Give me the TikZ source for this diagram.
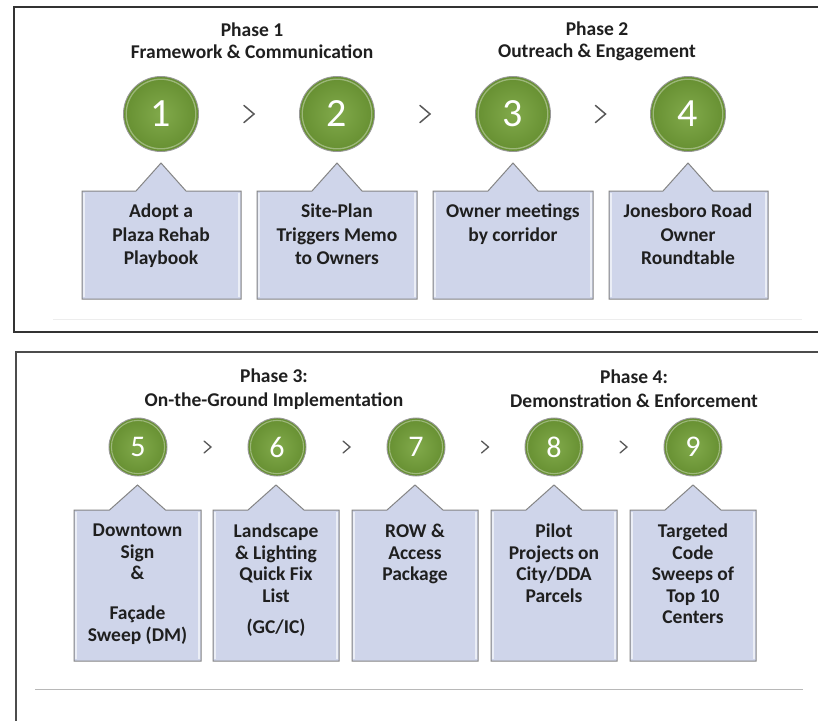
\documentclass[tikz,border=0pt]{standalone}
\usepackage{fontspec}
\setmainfont{Carlito}
\usetikzlibrary{calc}
\definecolor{circgreen}{HTML}{76A23B}
\definecolor{circdark}{HTML}{668F31}
\definecolor{boxfill}{HTML}{CFD5EA}
\definecolor{boxedge}{HTML}{858585}
\definecolor{chevcol}{HTML}{595959}
\tikzset{
  numcirc/.style={circle, draw=black!40, line width=0.9pt, inner color=circgreen!92!white, outer color=circdark, text=white, inner sep=0pt},
  bignum/.style={numcirc, minimum size=75pt, font=\fontsize{40}{40}\selectfont,
    path picture={\draw[white, opacity=0.35, line width=1.3pt] (path picture bounding box.center) circle[radius=34.8pt];}},
  smallnum/.style={numcirc, minimum size=58pt, font=\fontsize{30}{30}\selectfont,
    path picture={\draw[white, opacity=0.35, line width=1.1pt] (path picture bounding box.center) circle[radius=26.6pt];}},
  calloutbox/.style={fill=boxfill, draw=boxedge, line width=1pt, line join=miter},
  boxtext/.style={anchor=north, inner sep=0pt, align=center, font=\bfseries\fontsize{19.5}{23.5}\selectfont, text=black!88},
  boxtextb/.style={anchor=north, inner sep=0pt, align=center, font=\bfseries\fontsize{19.5}{21.5}\selectfont, text=black!88},
  phasetitle/.style={inner sep=0pt, align=center, font=\bfseries\fontsize{19.5}{22}\selectfont, text=black!88},
  chevron/.style={draw=chevcol, line width=1.5pt, line cap=round, line join=miter},
  panelline/.style={draw=black!80, line width=2pt},
}
% #1 cx, #2 x1, #3 x2, #4 top, #5 bottom, #6 apex y, #7 half base width
\newcommand{\mycallout}[7]{%
  \path[calloutbox] (#2,#4) -- (#1-#7,#4) -- (#1,#6) -- (#1+#7,#4) -- (#3,#4) -- (#3,#5) -- (#2,#5) -- cycle;
  \draw[white, opacity=0.6, line width=1.2pt] (#2+2,#4+2) -- (#2+2,#5-2);
  \draw[white, opacity=0.6, line width=1.2pt] (#3-2,#4+2) -- (#3-2,#5-2);
}
\begin{document}
\begin{tikzpicture}[x=1pt,y=-1pt]
\useasboundingbox (0,0) rectangle (818,721);
\fill[white] (0,0) rectangle (818,721);

% panels
\draw[panelline] (818,7) -- (13.5,7) -- (13.5,332) -- (818,332);
\draw[panelline, draw=black!70] (818,352) -- (15.5,352) -- (15.5,721);
\draw[black!7, line width=0.8pt] (53,319) -- (802,319);
\draw[black!28, line width=1pt] (35,689) -- (803,689);

% ---------- top row ----------
\node[phasetitle] (ph1) at (252,41) {Phase 1\\Framework \& Communication};
\node[phasetitle] (ph2) at (597,41) {Phase 2\\Outreach \& Engagement};

\node[bignum] (c1) at (161,114) {1};
\node[bignum] (c2) at (337,114) {2};
\node[bignum] (c3) at (513,114) {3};
\node[bignum] (c4) at (688,114) {4};

\foreach \a/\b in {c1/c2,c2/c3,c3/c4}{
  \draw[chevron] ($(\a)!0.5!(\b)+(-5,-8.5)$) -- ++(10,8.5) -- ++(-10,8.5);
}

\mycallout{161}{82}{241}{191}{299}{163}{25}
\mycallout{337}{257}{417}{191}{299}{163}{25}
\mycallout{513}{433}{593}{191}{299}{163}{25}
\mycallout{688}{609}{768}{191}{299}{163}{25}

\node[boxtext] (t1) at (161,204) {Adopt a\\Plaza Rehab\\Playbook};
\node[boxtext] (t2) at (337,204) {Site-Plan\\Triggers Memo\\to Owners};
\node[boxtext] (t3) at (513,204) {Owner meetings\\by corridor};
\node[boxtext] (t4) at (688,204) {Jonesboro Road\\Owner\\Roundtable};

% ---------- bottom row ----------
\node[phasetitle, font=\bfseries\fontsize{19.5}{24}\selectfont] (ph3) at (274,389) {Phase 3:\\On-the-Ground Implementation};
\node[phasetitle, font=\bfseries\fontsize{19.5}{24}\selectfont] (ph4) at (634,389) {Phase 4:\\Demonstration \& Enforcement};

\node[smallnum] (c5) at (138,447) {5};
\node[smallnum] (c6) at (277,447) {6};
\node[smallnum] (c7) at (416,447) {7};
\node[smallnum] (c8) at (554,447) {8};
\node[smallnum] (c9) at (693,447) {9};

\foreach \a/\b in {c5/c6,c6/c7,c7/c8,c8/c9}{
  \draw[chevron, line width=1.3pt] ($(\a)!0.5!(\b)+(-3.5,-6)$) -- ++(7,6) -- ++(-7,6);
}

\mycallout{137.5}{74}{201}{510}{661}{485}{28}
\mycallout{276}{213}{339}{510}{661}{485}{28}
\mycallout{415}{352}{478}{510}{661}{485}{28}
\mycallout{554}{491}{617}{510}{661}{485}{28}
\mycallout{693}{630}{756}{510}{661}{485}{28}

\node[boxtextb] (t5) at (137.5,524) {Downtown\\Sign\\\&\\[18.5pt]Façade\\Sweep (DM)};
\node[boxtextb] (t6) at (276,524) {Landscape\\\& Lighting\\Quick Fix\\List\\[10pt](GC/IC)};
\node[boxtextb] (t7) at (415,524) {ROW \&\\Access\\Package};
\node[boxtextb] (t8) at (554,524) {Pilot\\Projects on\\City/DDA\\Parcels};
\node[boxtextb] (t9) at (693,524) {Targeted\\Code\\Sweeps of\\Top 10\\Centers};
\end{tikzpicture}
\end{document}
